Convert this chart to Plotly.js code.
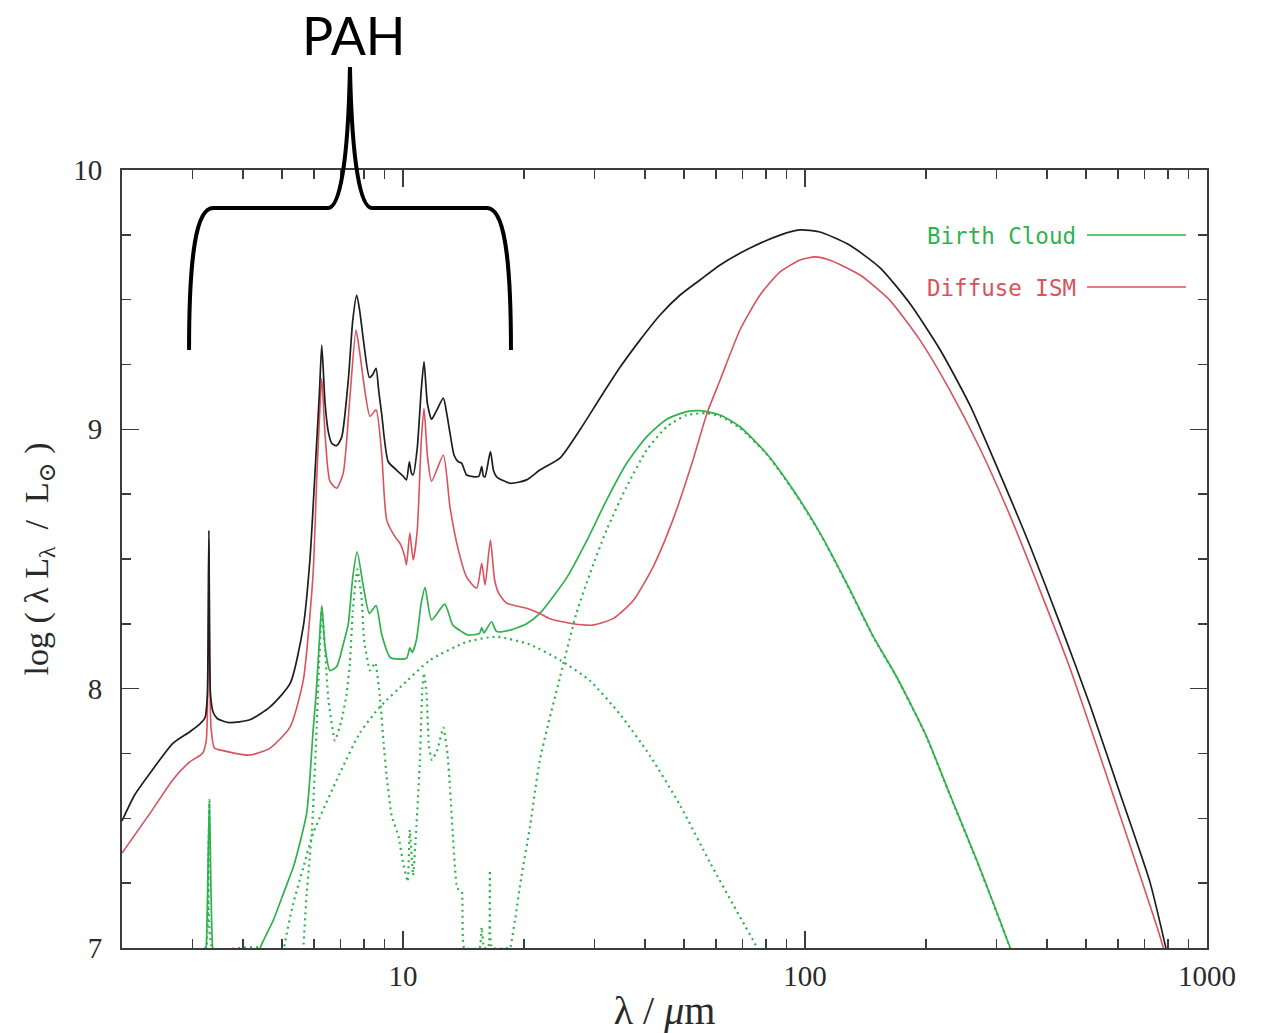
<!DOCTYPE html>
<html><head><meta charset="utf-8">
<script src="https://cdn.plot.ly/plotly-3.0.1.min.js"></script>
<style>body{margin:0;background:#fff}#chart{width:1266px;height:1033px}</style>
</head><body><div id="chart"></div>
<script>
// ---------- data (wavelength in micron, log luminosity) ----------
const totalWave = [2.00,2.15,2.35,2.68,2.95,3.13,3.22,3.26,3.29,3.32,3.37,3.45,3.70,4.16,4.67,5.24,5.65,5.87,6.05,6.20,6.28,6.40,6.52,6.65,6.84,7.04,7.31,7.50,7.67,7.80,7.97,8.25,8.40,8.57,8.70,8.85,9.19,9.64,10.0,10.2,10.37,10.5,10.6,10.85,11.1,11.28,11.5,11.78,12.1,12.6,12.85,13.09,13.4,13.73,13.99,14.4,15.1,15.45,15.7,15.85,16.0,16.5,16.8,17.1,18.5,20.3,21.9,24.6,27.6,30.9,34.7,38.9,43.6,48.9,54.8,61.5,73.0,86.7,97.2,108.9,129,154,182,217,257,305,363,431,512,608,721,787,830];
const totalLum  = [7.49,7.59,7.675,7.79,7.834,7.865,7.89,7.97,8.61,7.98,7.91,7.885,7.869,7.88,7.93,8.02,8.24,8.50,8.85,9.15,9.325,9.10,8.99,8.946,8.937,8.97,9.19,9.42,9.518,9.46,9.345,9.20,9.21,9.235,9.15,9.06,8.875,8.843,8.82,8.805,8.875,8.83,8.824,8.927,9.15,9.261,9.10,9.039,9.07,9.12,9.06,8.985,8.90,8.875,8.87,8.824,8.817,8.82,8.856,8.82,8.817,8.914,8.84,8.817,8.792,8.805,8.843,8.89,9.0,9.12,9.24,9.345,9.441,9.518,9.576,9.634,9.699,9.749,9.769,9.761,9.711,9.622,9.487,9.306,9.094,8.83,8.55,8.25,7.935,7.595,7.255,7.012,6.85];

const ismWave = [2.00,2.35,2.68,2.95,3.17,3.24,3.29,3.33,3.40,3.50,4.16,4.67,5.24,5.65,5.93,6.00,6.10,6.20,6.28,6.40,6.58,6.84,7.10,7.38,7.64,7.80,7.97,8.28,8.57,8.85,9.11,9.55,9.83,10.1,10.2,10.4,10.6,10.85,11.1,11.28,11.5,11.78,12.6,13.09,13.73,14.4,15.25,15.7,16.0,16.5,16.9,17.3,18.1,20.3,21.9,23.2,26.5,29.6,33.3,37.4,41.9,46.9,52.6,57.0,61.5,68.9,77.3,86.7,97.2,106,115,137,162,193,229,272,323,384,456,541,642,762,830];
const ismLum  = [7.366,7.52,7.65,7.718,7.75,7.80,8.58,7.85,7.77,7.764,7.744,7.771,7.853,8.033,8.37,8.496,8.805,9.05,9.197,8.98,8.80,8.773,8.83,9.126,9.383,9.30,9.19,9.05,9.075,8.907,8.65,8.586,8.56,8.51,8.477,8.60,8.496,8.61,8.95,9.081,8.90,8.80,8.90,8.70,8.535,8.43,8.387,8.483,8.40,8.573,8.42,8.368,8.33,8.31,8.29,8.27,8.25,8.245,8.27,8.34,8.47,8.65,8.88,9.06,9.19,9.383,9.518,9.607,9.653,9.665,9.653,9.595,9.50,9.345,9.152,8.928,8.67,8.38,8.08,7.744,7.40,7.05,6.85];

const birthWave = [2.00,3.15,3.24,3.30,3.36,3.50,4.00,4.41,4.76,5.04,5.33,5.54,5.76,5.87,5.97,6.08,6.19,6.28,6.40,6.58,6.84,7.10,7.31,7.50,7.69,7.97,8.25,8.57,8.85,9.30,10.2,10.4,10.55,10.8,11.1,11.35,11.78,12.7,13.3,14.0,14.5,15.5,15.7,15.9,16.6,17.1,18.5,20.3,21.9,25.6,28.7,32.1,36.0,40.4,45.3,50.8,54.8,61.5,68.9,80.2,93.5,109,127,148,169,200,229,272,324,360];
const birthLum  = [6.5,6.8,7.0,7.57,7.0,6.8,6.8,7.0,7.108,7.21,7.31,7.405,7.52,7.66,7.83,7.98,8.175,8.32,8.16,8.07,8.085,8.17,8.25,8.43,8.528,8.393,8.29,8.32,8.21,8.12,8.117,8.157,8.14,8.188,8.33,8.39,8.265,8.326,8.245,8.22,8.207,8.213,8.235,8.215,8.258,8.22,8.226,8.25,8.29,8.43,8.573,8.727,8.869,8.972,9.039,9.068,9.072,9.055,9.01,8.907,8.766,8.60,8.406,8.20,8.046,7.82,7.594,7.31,7.0,6.8];

// birth-cloud components (dotted)
const pahWave = [3.20,3.24,3.30,3.36,4.40,4.60,5.50,5.65,5.76,5.93,6.10,6.19,6.28,6.40,6.52,6.77,7.04,7.24,7.38,7.50,7.70,7.89,8.00,8.28,8.53,8.77,8.95,9.11,9.37,9.75,10.0,10.27,10.4,10.6,10.8,11.02,11.17,11.28,11.45,11.6,11.8,12.15,12.6,12.9,13.09,13.3,13.65,14.0,14.2,15.5,15.7,15.9,16.3,16.45,16.65,18.2];
const pahLum  = [7.0,7.0,7.57,7.0,7.0,6.8,6.8,7.0,7.21,7.44,7.85,8.11,8.31,8.15,7.96,7.80,7.88,7.98,8.10,8.30,8.46,8.35,8.19,8.07,8.10,7.96,7.79,7.66,7.51,7.43,7.33,7.256,7.455,7.28,7.47,7.725,8.0,8.06,7.98,7.78,7.725,7.76,7.85,7.75,7.62,7.44,7.23,7.22,7.0,7.0,7.08,7.0,7.0,7.30,7.0,7.0];

const hotWave = [4.9,5.06,5.33,5.65,5.97,6.97,7.82,8.77,10.23,11.67,14.4,17.1,20.7,24.6,29.2,34.7,41.2,48.9,58.0,68.9,76,85];
const hotLum  = [6.8,7.0,7.17,7.31,7.44,7.675,7.83,7.93,8.03,8.11,8.18,8.20,8.17,8.11,8.03,7.90,7.74,7.55,7.33,7.12,7.0,6.8];

const warmWave = [17.5,18.5,19.0,19.7,20.7,21.9,24.6,27.0,29.2,32.1,36.0,40.4,45.3,50.8,56.8,61.5,68.9,80.2,93.5,109,127,148,169,200,229,272,324,360];
const warmLum  = [6.8,7.0,7.108,7.275,7.468,7.725,8.046,8.29,8.445,8.612,8.779,8.92,9.01,9.055,9.062,9.05,9.005,8.905,8.764,8.598,8.404,8.198,8.044,7.818,7.592,7.308,6.998,6.8];

const decadeTicks = [10,100,1000];
const minorTicks = [2,3,4,5,6,7,8,9,20,30,40,50,60,70,80,90,200,300,400,500,600,700,800,900];
const yTicks = [7,8,9,10];
const legendLabels = ['Birth Cloud','Diffuse ISM'];

// ---------- styling ----------
const BLACK='#1e1e1e', RED='#d9525c', GREEN='#2eb24c';
const serif='Liberation Serif, DejaVu Serif, serif';
const SM = 0.6;

const traces = [
  {x:hotWave, y:hotLum, mode:'lines', line:{color:GREEN, width:2.2, dash:'2px,4px', shape:'spline', smoothing:SM}},
  {x:warmWave, y:warmLum, mode:'lines', line:{color:GREEN, width:2.2, dash:'2px,4px', shape:'spline', smoothing:SM}},
  {x:pahWave, y:pahLum, mode:'lines', line:{color:GREEN, width:2.2, dash:'2px,4px', shape:'spline', smoothing:0.4}},
  {x:birthWave, y:birthLum, mode:'lines', line:{color:GREEN, width:1.7, shape:'spline', smoothing:SM}},
  {x:ismWave, y:ismLum, mode:'lines', line:{color:RED, width:1.6, shape:'spline', smoothing:SM}},
  {x:totalWave, y:totalLum, mode:'lines', line:{color:BLACK, width:1.7, shape:'spline', smoothing:SM}}
];

// plot-area geometry (pixels) used only for the decorative brace / legend
const L=122, R=1207, T=170, B=948;
function P(x,y){ return ((x-L)/(R-L)).toFixed(4)+','+((B-y)/(B-T)).toFixed(4); }
const bracePath = 'M'+P(189,350)+' C'+P(189,250)+' '+P(197,208)+' '+P(213,208)+
  ' L'+P(328,208)+' C'+P(339,208)+' '+P(348,168)+' '+P(350,67)+
  ' C'+P(352,168)+' '+P(361,208)+' '+P(372,208)+
  ' L'+P(487,208)+' C'+P(503,208)+' '+P(511,250)+' '+P(511,350);

const axisCommon = {showline:true, linecolor:'#3c3c3c', linewidth:2, mirror:'allticks',
  ticks:'inside', tickcolor:'#3c3c3c', tickwidth:1.6, ticklen:17, showgrid:false, zeroline:false,
  tickfont:{family:serif, size:29, color:'#2a2a2a'}};

const layout = {
  width:1266, height:1033,
  margin:{l:L, r:1266-R, t:T, b:1033-B},
  paper_bgcolor:'#ffffff', plot_bgcolor:'#ffffff',
  showlegend:false,
  xaxis:Object.assign({}, axisCommon, {
    type:'log', range:[Math.log10(2), 3],
    tickmode:'array', tickvals:decadeTicks, ticktext:decadeTicks.map(String),
    ticklabelstandoff:1,
    minor:{tickmode:'array', tickvals:minorTicks, ticks:'inside', ticklen:9, tickwidth:1.4, tickcolor:'#3c3c3c', showgrid:false},
    title:{text:'λ / <i>μ</i>m', font:{family:serif, size:40, color:'#2a2a2a'}, standoff:7}
  }),
  yaxis:Object.assign({}, axisCommon, {
    range:[7,10], tickmode:'array', tickvals:yTicks, ticktext:yTicks.map(String),
    ticklabelstandoff:12,
    minor:{dtick:0.25, ticks:'inside', ticklen:9, tickwidth:1.4, tickcolor:'#3c3c3c', showgrid:false},
    title:{text:'log ( λ L<sub>λ</sub>  /  L<sub>⊙</sub> )', font:{family:serif, size:34, color:'#2a2a2a'}, standoff:14}
  }),
  shapes:[
    {type:'path', xref:'paper', yref:'paper', path:bracePath, line:{color:'#000', width:4}, layer:'above'},
    {type:'line', xref:'paper', yref:'paper', x0:(1087-L)/(R-L), x1:(1186-L)/(R-L), y0:(B-235)/(B-T), y1:(B-235)/(B-T), line:{color:GREEN, width:1.5}},
    {type:'line', xref:'paper', yref:'paper', x0:(1087-L)/(R-L), x1:(1186-L)/(R-L), y0:(B-287)/(B-T), y1:(B-287)/(B-T), line:{color:RED, width:1.5}}
  ],
  annotations:[
    {text:'PAH', xref:'paper', yref:'paper', x:(354-L)/(R-L), y:(B-35)/(B-T), showarrow:false, xanchor:'center', yanchor:'middle',
     font:{family:'Lato, Noto Sans, sans-serif', size:52, color:'#000'}},
    {text:legendLabels[0], xref:'paper', yref:'paper', x:(925-L)/(R-L), y:(B-236)/(B-T), showarrow:false, xanchor:'left', yanchor:'middle',
     font:{family:'DejaVu Sans Mono, monospace', size:22.5, color:GREEN}},
    {text:legendLabels[1], xref:'paper', yref:'paper', x:(925-L)/(R-L), y:(B-288)/(B-T), showarrow:false, xanchor:'left', yanchor:'middle',
     font:{family:'DejaVu Sans Mono, monospace', size:22.5, color:RED}}
  ]
};

Plotly.newPlot('chart', traces, layout, {staticPlot:true, displayModeBar:false});
</script>
</body></html>
